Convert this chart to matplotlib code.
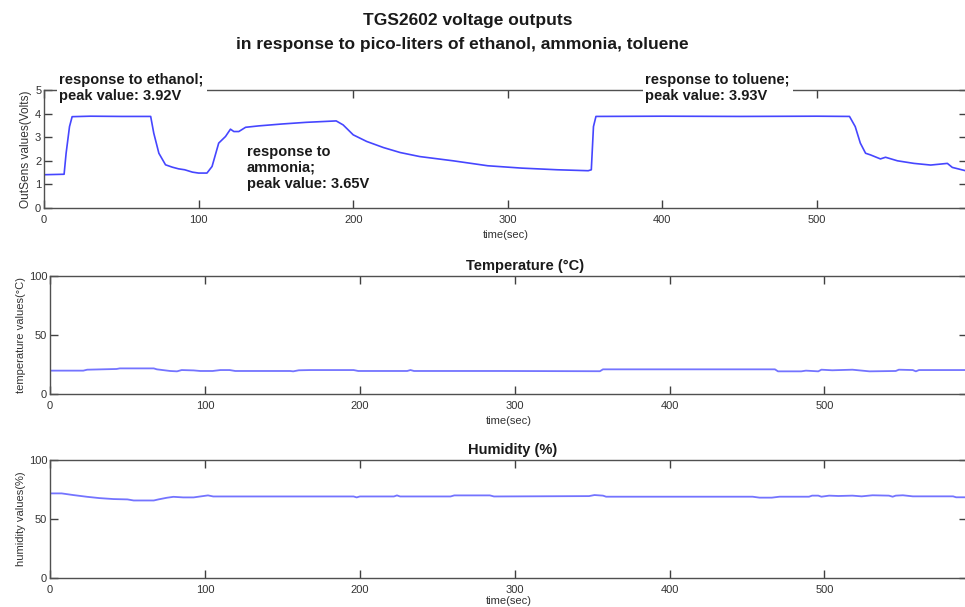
import matplotlib
matplotlib.use("Agg")
import matplotlib.pyplot as plt

plt.rcParams["font.family"] = ["Liberation Sans", "DejaVu Sans"]

# ---- sensor output (V) ----
t_volt = [0, 13, 14.3, 16.5, 18.2, 30, 50, 69, 71, 74.3, 78.6, 83, 87, 91, 96, 100,
          105.4, 108.7, 113, 117.4, 120.6, 122.8, 126, 130.4, 139, 154, 169.6, 189,
          193.5, 200, 208.7, 219.6, 230.4, 243, 264.6, 287, 309, 332, 352, 354,
          355.4, 357, 400, 450, 500, 521, 524.7, 528, 531.4, 534.6, 541, 544.3,
          552, 562.7, 573.5, 584.3, 587.5, 596]
volt = [1.41, 1.43, 2.32, 3.45, 3.87, 3.89, 3.88, 3.88, 3.17, 2.32, 1.83, 1.73, 1.66,
        1.62, 1.52, 1.48, 1.48, 1.76, 2.75, 3.03, 3.34, 3.24, 3.24, 3.42, 3.48, 3.56,
        3.63, 3.69, 3.52, 3.10, 2.82, 2.56, 2.35, 2.18, 2.0, 1.79, 1.69, 1.62, 1.58,
        1.62, 3.45, 3.88, 3.89, 3.88, 3.89, 3.88, 3.45, 2.75, 2.32, 2.25, 2.08, 2.15,
        2.0, 1.89, 1.82, 1.89, 1.72, 1.58]

# ---- temperature (degC) ----
t_temp = [0, 21.5, 24, 43, 45, 67, 69, 77.6, 82, 85, 92.7, 97, 105, 110, 116, 119.6,
          155, 157, 160.6, 168, 196, 199, 230.6, 232.7, 235, 291, 355, 357, 468, 470,
          485, 488, 496, 498, 505, 518, 529, 546, 548, 557, 559, 561, 592]
temp = [19.8, 19.8, 20.6, 21.2, 21.7, 21.7, 20.9, 19.5, 19.2, 20.3, 20.0, 19.5, 19.5,
        20.3, 20.3, 19.5, 19.5, 19.2, 20.1, 20.3, 20.3, 19.5, 19.5, 20.3, 19.5, 19.5,
        19.3, 20.9, 20.9, 19.2, 19.2, 19.8, 19.2, 20.6, 20.1, 20.6, 19.2, 19.5, 20.6,
        20.3, 19.2, 20.3, 20.3]

# ---- humidity (%) ----
t_hum = [0, 7.5, 15, 24, 32, 41, 50, 54, 67, 70, 75.4, 79.7, 86, 92.7, 97, 102, 105.4,
         196, 198, 200, 222, 224, 226, 258.6, 261, 284, 286.6, 348, 351.5, 357, 359,
         453.6, 458, 466, 471, 490, 492, 496, 498, 503, 509, 518, 524, 531, 541.6,
         544, 546, 550.6, 557, 583, 585, 592]
hum = [71.7, 71.7, 70.3, 68.8, 67.7, 66.9, 66.6, 65.7, 65.7, 66.6, 68.0, 68.8, 68.3,
       68.3, 69.1, 70.0, 69.1, 69.1, 68.3, 69.1, 69.1, 70.0, 69.1, 69.1, 70.0, 70.0,
       69.1, 69.4, 70.3, 69.8, 68.9, 68.9, 68.1, 68.1, 68.9, 68.9, 69.8, 69.8, 68.9,
       69.8, 69.5, 69.8, 69.2, 70.1, 69.8, 68.9, 69.8, 70.1, 69.2, 69.2, 68.4, 68.4]

xticks = [0, 100, 200, 300, 400, 500]

W, H = 965, 607
fig = plt.figure(figsize=(W / 100, H / 100), dpi=100)


def px_axes(left, right, top, bottom):
    return fig.add_axes([left / W, 1 - bottom / H, (right - left) / W, (bottom - top) / H])


def style(ax, xmax, ylim, yticks, ylabel, ylfs, xlpad=4):
    ax.set_xlim(0, xmax); ax.set_ylim(*ylim)
    ax.set_xticks(xticks); ax.set_yticks(yticks)
    ax.tick_params(direction="in", top=True, right=True, length=6, width=1,
                   color="#404040", labelsize=8, labelcolor="#333333", pad=2)
    ax.tick_params(axis="x", pad=5)
    for s in ax.spines.values():
        s.set_color("#505050"); s.set_linewidth(1)
    ax.set_xlabel("time(sec)", fontsize=8, color="#333333", labelpad=xlpad)
    ax.set_ylabel(ylabel, fontsize=ylfs, color="#333333", labelpad=2)


# top: sensor voltage
ax1 = px_axes(44, 967, 90, 208)
ax1.plot(t_volt, volt, color="#4646ff", lw=1.2)
style(ax1, 597, (0, 5), [0, 1, 2, 3, 4, 5], "OutSens values(Volts)", 8.6)
box = dict(facecolor="white", edgecolor="none", pad=2)
kw = dict(fontsize=10.5, fontweight="bold", color="#1a1a1a", va="top", ha="left",
          linespacing=1.2)
ax1.text(10, 5.72, "response to ethanol;\npeak value: 3.92V", bbox=box, zorder=5, **kw)
ax1.text(131, 2.68, "response to\nammonia;\npeak value: 3.65V", **kw)
ax1.text(389, 5.72, "response to toluene;\npeak value: 3.93V", bbox=box, zorder=5, **kw)
for t in ax1.texts:
    t.set_clip_on(False)

fig.text(468 / W, 1 - 21 / H, "TGS2602 voltage outputs", fontsize=12.5, fontweight="bold",
         ha="center", va="center", color="#1a1a1a")
fig.text(462 / W, 1 - 45 / H, "in response to pico-liters of ethanol, ammonia, toluene",
         fontsize=12.5, fontweight="bold", ha="center", va="center", color="#1a1a1a")

# middle: temperature
ax2 = px_axes(50, 967, 276, 394)
ax2.plot(t_temp, temp, color="#7474ff", lw=1.3)
style(ax2, 592, (0, 100), [0, 50, 100], "temperature values(°C)", 8)
ax2.set_title("Temperature (°C)", fontsize=10.5, fontweight="bold", color="#1a1a1a",
              pad=4, x=0.518)

# bottom: humidity
ax3 = px_axes(50, 967, 460, 578)
ax3.plot(t_hum, hum, color="#7474ff", lw=1.3)
style(ax3, 592, (0, 100), [0, 50, 100], "humidity values(%)", 8, xlpad=0.5)
ax3.set_title("Humidity (%)", fontsize=10.5, fontweight="bold", color="#1a1a1a",
              pad=4, x=0.505)

fig.savefig("out.png", dpi=100)
